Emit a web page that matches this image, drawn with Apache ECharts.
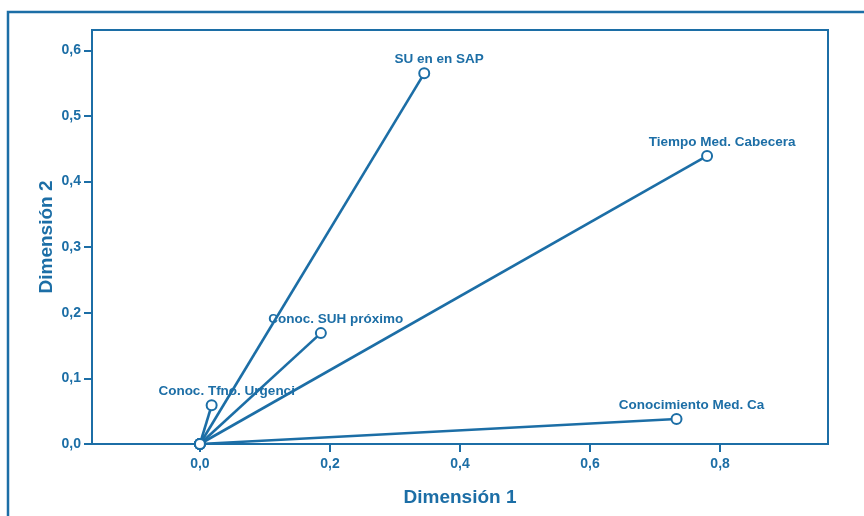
<!DOCTYPE html>
<html><head><meta charset="utf-8">
<script src="https://cdn.jsdelivr.net/npm/echarts@6/dist/echarts.min.js"></script>
<style>html,body{margin:0;padding:0;background:#fff}#c{width:864px;height:516px}</style>
</head><body><div id="c"></div>
<script>
const names = ['SU en en SAP','Tiempo Med. Cabecera','Conoc. SUH próximo','Conoc. Tfno. Urgenci','Conocimiento Med. Ca'];
const dim1 = [0.345, 0.780, 0.186, 0.018, 0.733];
const dim2 = [0.565, 0.439, 0.169, 0.059, 0.038];
const xTicks = [0, 0.2, 0.4, 0.6, 0.8];
const yTicks = [0, 0.1, 0.2, 0.3, 0.4, 0.5, 0.6];

const C = '#1c6ea6';
const fmt = v => v.toFixed(1).replace('.', ',');
const font = 'Liberation Sans';

const series = names.map((n, i) => ({
  type: 'line',
  name: n,
  data: [[0, 0], {value: [dim1[i], dim2[i]], label: {show: true}}],
  symbol: 'emptyCircle',
  symbolSize: 10,
  lineStyle: {color: C, width: 2.6},
  itemStyle: {color: C, borderColor: C, borderWidth: 2.2},
  label: {show: false, position: 'top', offset: [15, 4], formatter: () => n,
          color: C, fontFamily: font, fontSize: 13.5, fontWeight: 'bold'},
  animation: false,
  z: 3
}));

const chart = echarts.init(document.getElementById('c'), null, {renderer: 'canvas'});
chart.setOption({
  backgroundColor: '#fff',
  animation: false,
  graphic: [{type: 'rect', shape: {x: 8, y: 12, width: 1000, height: 800}, style: {fill: 'none', stroke: C, lineWidth: 2.5}, silent: true}],
  grid: {left: 92, top: 30, right: 36, bottom: 72, show: true, borderColor: C, borderWidth: 2, backgroundColor: 'transparent'},
  xAxis: {
    type: 'value', min: -0.166, max: 0.966,
    name: 'Dimensión 1', nameLocation: 'middle', nameGap: 44,
    nameTextStyle: {color: C, fontFamily: font, fontSize: 19, fontWeight: 'bold'},
    axisLine: {onZero: false, lineStyle: {color: C, width: 2}},
    axisTick: {show: true, customValues: xTicks, length: 8, lineStyle: {color: C, width: 2}},
    axisLabel: {customValues: xTicks, formatter: fmt, margin: 13, color: C, fontFamily: font, fontSize: 14, fontWeight: 'bold'},
    splitLine: {show: false}
  },
  yAxis: {
    type: 'value', min: 0, max: 0.631,
    name: 'Dimensión 2', nameLocation: 'middle', nameGap: 36, nameMoveOverlap: false,
    nameTextStyle: {color: C, fontFamily: font, fontSize: 19, fontWeight: 'bold'},
    axisLine: {onZero: false, lineStyle: {color: C, width: 2}},
    axisTick: {show: true, customValues: yTicks, length: 8, lineStyle: {color: C, width: 2}},
    axisLabel: {customValues: yTicks, formatter: fmt, margin: 11, color: C, fontFamily: font, fontSize: 14, fontWeight: 'bold'},
    splitLine: {show: false}
  },
  series: series
});
</script></body></html>
